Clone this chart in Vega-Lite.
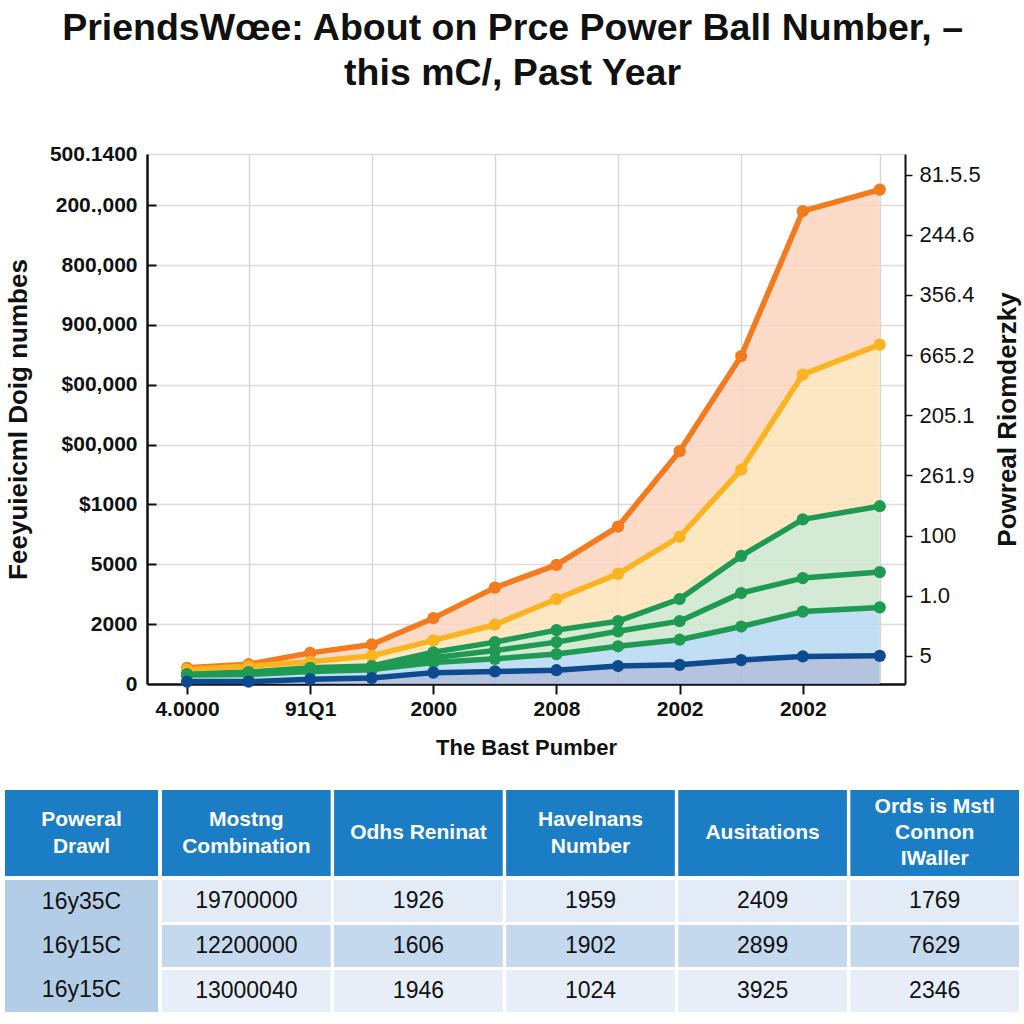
{
  "$schema": "https://vega.github.io/schema/vega-lite/v6.json",
  "background": "white",
  "padding": {"left": 5, "right": 5, "top": 9, "bottom": 0},
  "config": {"view": {"stroke": null}, "font": "Liberation Sans"},
  "title": {
    "text": ["PriendsWœe: About on Prce Power Ball Number, –", "this mC/, Past Year"],
    "fontSize": 37.5, "fontWeight": "bold", "font": "Liberation Sans", "lineHeight": 45,
    "anchor": "middle", "color": "#111111", "offset": 51
  },
  "datasets": {
    "series": [
      {"i": 0, "o": 0.27, "a": 0.24, "g1": 0.16, "g2": 0.16, "g3": 0.15, "n": 0.04},
      {"i": 1, "o": 0.33, "a": 0.30, "g1": 0.20, "g2": 0.19, "g3": 0.16, "n": 0.04},
      {"i": 2, "o": 0.52, "a": 0.37, "g1": 0.27, "g2": 0.24, "g3": 0.21, "n": 0.08},
      {"i": 3, "o": 0.66, "a": 0.47, "g1": 0.30, "g2": 0.27, "g3": 0.24, "n": 0.10},
      {"i": 4, "o": 1.10, "a": 0.73, "g1": 0.53, "g2": 0.44, "g3": 0.36, "n": 0.19},
      {"i": 5, "o": 1.61, "a": 0.99, "g1": 0.70, "g2": 0.56, "g3": 0.42, "n": 0.21},
      {"i": 6, "o": 1.99, "a": 1.42, "g1": 0.90, "g2": 0.70, "g3": 0.50, "n": 0.23},
      {"i": 7, "o": 2.63, "a": 1.84, "g1": 1.05, "g2": 0.88, "g3": 0.63, "n": 0.30},
      {"i": 8, "o": 3.89, "a": 2.46, "g1": 1.42, "g2": 1.05, "g3": 0.74, "n": 0.32},
      {"i": 9, "o": 5.48, "a": 3.58, "g1": 2.14, "g2": 1.52, "g3": 0.96, "n": 0.40},
      {"i": 10, "o": 7.90, "a": 5.17, "g1": 2.75, "g2": 1.77, "g3": 1.21, "n": 0.46},
      {"i": 11.25, "o": 8.26, "a": 5.67, "g1": 2.97, "g2": 1.87, "g3": 1.28, "n": 0.47}
    ],
    "hdr": [
      {"c": "1", "t": ["Poweral", "Drawl"]},
      {"c": "2", "t": ["Mostng", "Combination"]},
      {"c": "3", "t": ["Odhs Reninat"]},
      {"c": "4", "t": ["Havelnans", "Number"]},
      {"c": "5", "t": ["Ausitations"]},
      {"c": "6", "t": ["Ords is Mstl", "Connon", "IWaller"]}
    ],
    "first": [
      {"r": "1", "c": "1", "v": "16y35C"},
      {"r": "2", "c": "1", "v": "16y15C"},
      {"r": "3", "c": "1", "v": "16y15C"}
    ],
    "body": [
      {"r": "1", "c": "2", "v": "19700000"}, {"r": "1", "c": "3", "v": "1926"}, {"r": "1", "c": "4", "v": "1959"}, {"r": "1", "c": "5", "v": "2409"}, {"r": "1", "c": "6", "v": "1769"},
      {"r": "2", "c": "2", "v": "12200000"}, {"r": "2", "c": "3", "v": "1606"}, {"r": "2", "c": "4", "v": "1902"}, {"r": "2", "c": "5", "v": "2899"}, {"r": "2", "c": "6", "v": "7629"},
      {"r": "3", "c": "2", "v": "13000040"}, {"r": "3", "c": "3", "v": "1946"}, {"r": "3", "c": "4", "v": "1024"}, {"r": "3", "c": "5", "v": "3925"}, {"r": "3", "c": "6", "v": "2346"}
    ]
  },
  "spacing": 32,
  "resolve": {"scale": {"color": "independent", "fill": "independent"}},
  "vconcat": [
    {
      "width": 758, "height": 530,
      "data": {"name": "series"},
      "encoding": {
        "x": {
          "field": "i", "type": "quantitative",
          "scale": {"domain": [-0.65, 11.66], "nice": false, "zero": false},
          "axis": {
            "values": [0, 1, 2, 3, 4, 5, 6, 7, 8, 9, 10, 11.25],
            "labelExpr": "datum.value % 2 == 0 ? ['4.0000','91Q1','2000','2008','2002','2002'][datum.value / 2] : ''",
            "grid": true, "gridColor": "#d9d9d9", "gridWidth": 1.5,
            "gridOpacity": {"condition": {"test": "datum.value % 2 != 0", "value": 1}, "value": 0},
            "tickOpacity": {"condition": {"test": "datum.value % 2 == 0", "value": 1}, "value": 0},
            "tickSize": 10, "tickWidth": 2, "tickColor": "#111111",
            "domainColor": "#111111", "domainWidth": 2.5,
            "labelFontSize": 21, "labelFontWeight": "bold", "labelColor": "#111111", "labelPadding": 4,
            "labelFlush": false, "labelOverlap": false,
            "title": "The Bast Pumber", "titleFontSize": 22, "titleFontWeight": "bold", "titleColor": "#111111", "titlePadding": 18
          }
        }
      },
      "layer": [
        {
          "mark": {"type": "area", "color": "#fad3bd", "opacity": 0.85},
          "encoding": {
            "y": {
              "field": "o", "type": "quantitative",
              "scale": {"domain": [0, 8.855], "nice": false, "zero": true},
              "axis": {
                "values": [0, 1, 2, 3, 4, 5, 6, 7, 8, 8.855],
                "labelExpr": "['0','2000','5000','$1000','$00,000','$00,000','900,000','800,000','200.,000','500.1400'][round(datum.value)]",
                "grid": true, "gridColor": "#dcdcdc", "gridWidth": 1.5,
                "tickSize": -9, "tickWidth": 2, "tickColor": "#111111",
                "tickOpacity": {"condition": {"test": "datum.value > 0.5 && datum.value < 8.5", "value": 1}, "value": 0},
                "domainColor": "#111111", "domainWidth": 2.5,
                "labelFontSize": 21, "labelFontWeight": "bold", "labelColor": "#111111", "labelPadding": 19,
                "labelFlush": false, "labelOverlap": false,
                "title": "Feeyuieicml Doig numbes", "titleFontSize": 26, "titleFontWeight": "bold", "titleColor": "#111111", "titlePadding": 18
              }
            },
            "y2": {"field": "a"}
          }
        },
        {
          "mark": {"type": "area", "color": "#fde3b9", "opacity": 0.85},
          "encoding": {
            "y": {"field": "a", "type": "quantitative", "scale": {"domain": [0, 8.855], "nice": false, "zero": true}, "axis": null},
            "y2": {"field": "g1"}
          }
        },
        {
          "mark": {"type": "area", "color": "#cde6cd", "opacity": 0.85},
          "encoding": {
            "y": {"field": "g1", "type": "quantitative", "scale": {"domain": [0, 8.855], "nice": false, "zero": true}, "axis": null},
            "y2": {"field": "g3"}
          }
        },
        {
          "mark": {"type": "area", "color": "#b6d8f2", "opacity": 0.85},
          "encoding": {
            "y": {"field": "g3", "type": "quantitative", "scale": {"domain": [0, 8.855], "nice": false, "zero": true}, "axis": null},
            "y2": {"field": "n"}
          }
        },
        {
          "mark": {"type": "area", "color": "#a8b9d8", "opacity": 0.85},
          "encoding": {
            "y": {"field": "n", "type": "quantitative", "scale": {"domain": [0, 8.855], "nice": false, "zero": true}, "axis": null},
            "y2": {"datum": 0}
          }
        },
        {
          "transform": [{"fold": ["o", "a", "g1", "g2", "g3", "n"], "as": ["s", "v"]}],
          "mark": {"type": "line", "strokeWidth": 5.5, "strokeCap": "round", "strokeJoin": "round"},
          "encoding": {
            "y": {"field": "v", "type": "quantitative", "scale": {"domain": [0, 8.855], "nice": false, "zero": true}, "axis": null},
            "color": {
              "field": "s", "type": "nominal",
              "scale": {"domain": ["o", "a", "g1", "g2", "g3", "n"], "range": ["#f47a1e", "#fbb320", "#1f9a52", "#1f9a52", "#1f9a52", "#0d4a8e"]},
              "legend": null
            }
          }
        },
        {
          "transform": [{"fold": ["o", "a", "g1", "g2", "g3", "n"], "as": ["s", "v"]}],
          "mark": {"type": "circle", "size": 150, "opacity": 1},
          "encoding": {
            "y": {
              "field": "v", "type": "quantitative", "scale": {"domain": [0, 8.855], "nice": false, "zero": true},
              "axis": {
                "orient": "right",
                "values": [0.47, 1.475, 2.48, 3.485, 4.49, 5.495, 6.5, 7.505, 8.51],
                "labelExpr": "['5','1.0','100','261.9','205.1','665.2','356.4','244.6','81.5.5'][round((datum.value - 0.47) / 1.005)]",
                "grid": false,
                "tickSize": 7, "tickWidth": 1.5, "tickColor": "#111111",
                "domainColor": "#111111", "domainWidth": 2,
                "labelFontSize": 22, "labelColor": "#111111", "labelPadding": 7,
                "labelFlush": false, "labelOverlap": false,
                "title": "Powreal Riomderzky", "titleFontSize": 26, "titleFontWeight": "bold", "titleColor": "#111111",
                "titleAngle": 270, "titleBaseline": "top", "titlePadding": 14
              }
            },
            "color": {
              "field": "s", "type": "nominal",
              "scale": {"domain": ["o", "a", "g1", "g2", "g3", "n"], "range": ["#f47a1e", "#fbb320", "#1f9a52", "#1f9a52", "#1f9a52", "#0d4a8e"]},
              "legend": null
            }
          }
        }
      ],
      "resolve": {"axis": {"y": "independent"}}
    },
    {
      "spacing": 4,
      "hconcat": [
        {
          "spacing": 4,
          "vconcat": [
            {
              "width": 11, "height": 86,
              "data": {"name": "hdr"},
              "transform": [{"filter": "datum.c == '1'"}],
              "encoding": {"x": {"field": "c", "type": "nominal", "axis": null, "scale": {"range": [-142, 11], "paddingInner": 0, "paddingOuter": 0}}},
              "layer": [
                {"mark": {"type": "rect", "color": "#1b7ec4"}},
                {"mark": {"type": "text", "color": "white", "fontSize": 21, "fontWeight": "bold", "lineHeight": 27, "baseline": "middle", "dy": -13.5},
                 "encoding": {"text": {"field": "t"}}}
              ]
            },
            {
              "width": 11, "height": 132,
              "data": {"name": "first"},
              "encoding": {"x": {"field": "c", "type": "nominal", "axis": null, "scale": {"range": [-142, 11], "paddingInner": 0, "paddingOuter": 0}}},
              "layer": [
                {"mark": {"type": "rect", "color": "#b4cde6"}, "encoding": {"y": {"field": "r", "type": "nominal", "axis": null, "scale": {"paddingInner": 0, "paddingOuter": 0}}}},
                {"mark": {"type": "text", "color": "#111111", "fontSize": 23, "baseline": "middle"},
                 "encoding": {"y": {"field": "r", "type": "nominal", "axis": null}, "text": {"field": "v"}}}
              ]
            }
          ]
        },
        {
          "spacing": 4,
          "vconcat": [
            {
              "width": 715, "height": 86,
              "data": {"name": "hdr"},
              "transform": [{"filter": "datum.c != '1'"}],
              "encoding": {"x": {"field": "c", "type": "nominal", "axis": null, "scale": {"range": [-142, 715], "paddingInner": 0.02, "paddingOuter": 0}}},
              "layer": [
                {"mark": {"type": "rect", "color": "#1b7ec4"}},
                {"transform": [{"filter": "length(datum.t) == 1"}],
                 "mark": {"type": "text", "color": "white", "fontSize": 21, "fontWeight": "bold", "lineHeight": 27, "baseline": "middle"},
                 "encoding": {"text": {"field": "t"}}},
                {"transform": [{"filter": "length(datum.t) == 2"}],
                 "mark": {"type": "text", "color": "white", "fontSize": 21, "fontWeight": "bold", "lineHeight": 27, "baseline": "middle", "dy": -13.5},
                 "encoding": {"text": {"field": "t"}}},
                {"transform": [{"filter": "length(datum.t) == 3"}],
                 "mark": {"type": "text", "color": "white", "fontSize": 21, "fontWeight": "bold", "lineHeight": 26, "baseline": "middle", "dy": -26},
                 "encoding": {"text": {"field": "t"}}}
              ]
            },
            {
              "width": 715, "height": 132,
              "data": {"name": "body"},
              "encoding": {
                "x": {"field": "c", "type": "nominal", "axis": null, "scale": {"range": [-142, 715], "paddingInner": 0.02, "paddingOuter": 0}},
                "y": {"field": "r", "type": "nominal", "axis": null, "scale": {"paddingInner": 0.07, "paddingOuter": 0}}
              },
              "layer": [
                {"mark": {"type": "rect"},
                 "encoding": {"fill": {"field": "r", "type": "nominal", "scale": {"domain": ["1", "2", "3"], "range": ["#e3ebf6", "#c4d8ee", "#e7eef8"]}, "legend": null}}},
                {"mark": {"type": "text", "color": "#111111", "fontSize": 23, "baseline": "middle"},
                 "encoding": {"text": {"field": "v"}}}
              ]
            }
          ]
        }
      ]
    }
  ]
}
